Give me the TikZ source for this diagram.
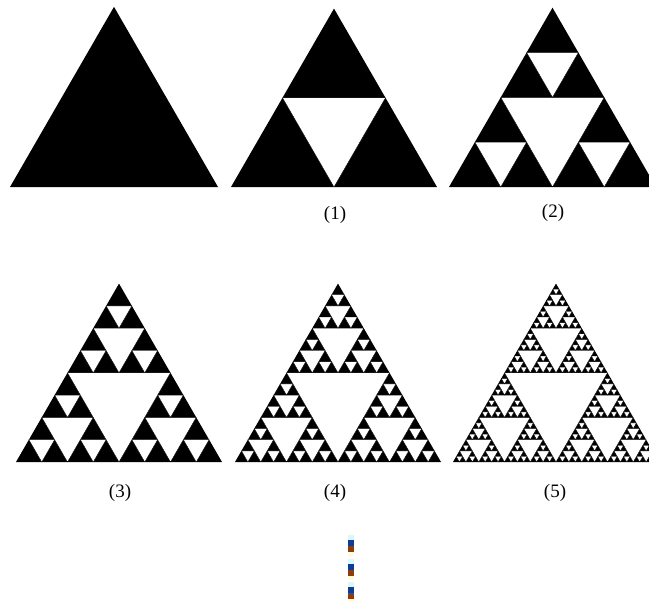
\documentclass[tikz,border=0pt]{standalone}
\usepackage{fontspec}
\setmainfont{Liberation Serif}
\usetikzlibrary{positioning}
\definecolor{markblue}{RGB}{15,60,150}
\definecolor{markbrown}{RGB}{140,60,15}
\definecolor{markcyan}{RGB}{215,248,255}
\definecolor{markcream}{RGB}{255,250,215}
\tikzset{
  holefill/.style={fill=white, draw=black, line width=0.35pt, line join=round},
  levellabel/.style={font=\fontsize{19}{22}\selectfont, inner sep=0pt}
}
% black triangle: (#1,#2) lower left corner, #3 side
\newcommand\sierpBase[3]{%
  \pgfmathsetmacro\apx{#1+#3/2}%
  \pgfmathsetmacro\apy{#2-#3*0.8660254}%
  \fill[black] (#1,#2) -- (#1+#3,#2) -- (\apx,\apy) -- cycle;}
% white holes: #1 depth, (#2,#3) lower left corner, #4 side
\newcommand\sierpHoles[4]{%
  \ifnum#1>0
    \begingroup
    \pgfmathsetmacro\hs{#4/2}%
    \pgfmathsetmacro\hh{#4*0.4330127}%
    \pgfmathsetmacro\xa{#2+#4/4}%
    \pgfmathsetmacro\xb{#2+#4/2}%
    \pgfmathsetmacro\xc{#2+3*#4/4}%
    \pgfmathsetmacro\ym{#3-\hh}%
    \filldraw[holefill] (\xb,#3) -- (\xa,\ym) -- (\xc,\ym) -- cycle;
    \pgfmathtruncatemacro\nd{#1-1}%
    \edef\nextcalls{%
      \noexpand\sierpHoles{\nd}{#2}{#3}{\hs}%
      \noexpand\sierpHoles{\nd}{\xb}{#3}{\hs}%
      \noexpand\sierpHoles{\nd}{\xa}{\ym}{\hs}}%
    \nextcalls
    \endgroup
  \fi}

\begin{document}
\begin{tikzpicture}[x=1pt, y=-1pt]
  \useasboundingbox (0,0) rectangle (649,602);
  \fill[white] (0,0) rectangle (649,602);
  \clip (0,0) rectangle (649,602);

  % top row
  \sierpBase{10}{187}{208}
  \sierpBase{231}{187}{206}
  \sierpHoles{1}{231}{187}{206}
  \sierpBase{449}{187}{207}
  \sierpHoles{2}{449}{187}{207}

  % bottom row
  \sierpBase{16}{462}{206}
  \sierpHoles{3}{16}{462}{206}
  \sierpBase{235}{462}{206}
  \sierpHoles{4}{235}{462}{206}
  \sierpBase{453}{462}{206}
  \sierpHoles{5}{453}{462}{206}

  % labels
  \node[levellabel] (lab1) at (335,215) {(1)};
  \node[levellabel] (lab2) at (553,213) {(2)};
  \node[levellabel] (lab3) at (120,493) {(3)};
  \node[levellabel] (lab4) at (335,493) {(4)};
  \node[levellabel] (lab5) at (555,493) {(5)};

  % small marks
  \foreach \y in {535,559,582} {
    \fill[markcyan] (348,\y) rectangle (354,\y+5);
    \fill[markblue] (348,\y+5) rectangle (354,\y+11);
    \fill[markbrown] (348,\y+11) rectangle (354,\y+17);
    \fill[markcream] (348,\y+17) rectangle (354,\y+21);
  }
\end{tikzpicture}
\end{document}
